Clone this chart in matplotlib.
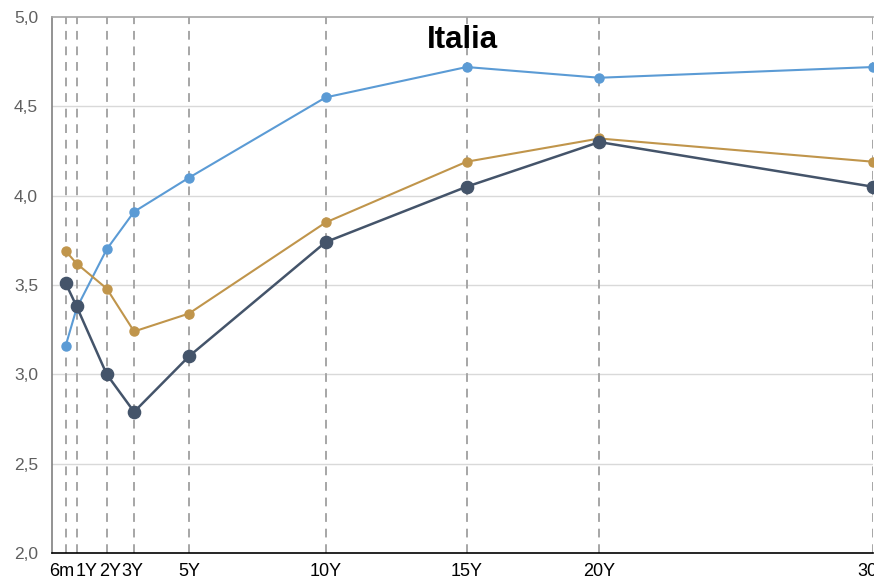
import matplotlib
matplotlib.use("Agg")
import matplotlib.pyplot as plt
from matplotlib.transforms import ScaledTranslation

plt.rcParams["font.family"] = ["Liberation Sans", "DejaVu Sans"]

# Maturities (years) and their labels
maturities = [0.5, 0.9, 2, 3, 5, 10, 15.15, 20, 30]
labels = ["6m", "1Y", "2Y", "3Y", "5Y", "10Y", "15Y", "20Y", "30Y"]

# Yield curves (%)
curve_blue = [3.16, 3.37, 3.70, 3.91, 4.10, 4.55, 4.72, 4.66, 4.72]
curve_gold = [3.69, 3.62, 3.48, 3.24, 3.34, 3.85, 4.19, 4.32, 4.19]
curve_dark = [3.51, 3.38, 3.00, 2.79, 3.10, 3.74, 4.05, 4.30, 4.05]

fig = plt.figure(figsize=(8.74, 5.8), dpi=100)
ax = fig.add_axes([52 / 874, 27 / 580, 821 / 874, 536 / 580])

# horizontal grid
for y in [2.5, 3.0, 3.5, 4.0, 4.5]:
    ax.axhline(y, color="#d9d9d9", lw=1.0, zorder=0)

# dashed verticals at each maturity
for m in maturities:
    ax.axvline(m, color="#a6a6a6", lw=1.4, ls=(0, (4.5, 3.5)), zorder=1)

ax.plot(maturities, curve_blue, color="#5b9bd5", lw=1.5, marker="o", ms=6.5, zorder=3)
ax.plot(maturities, curve_gold, color="#c0954b", lw=1.5, marker="o", ms=6.5, zorder=3)
ax.plot(maturities, curve_dark, color="#44546a", lw=1.8, marker="o", ms=8.8, zorder=4)

ax.set_xlim(0, 30)
ax.set_ylim(2.0, 5.0)
ax.set_xticks(maturities)
ax.set_xticklabels(labels, fontsize=13, color="black")
ax.set_yticks([2.0, 2.5, 3.0, 3.5, 4.0, 4.5, 5.0])
ax.set_yticklabels([f"{v:.1f}".replace(".", ",") for v in ax.get_yticks()],
                   fontsize=12.5, color="#5f5f5f")
ax.tick_params(axis="x", length=0, pad=7)
ax.tick_params(axis="y", length=0, pad=10)

# short-end labels are packed side by side so they don't collide
shifts_px = [-3.5, 10, 3, -2, 0, 0, 0, 0, 0]
for lbl, dx in zip(ax.get_xticklabels(), shifts_px):
    lbl.set_transform(lbl.get_transform() + ScaledTranslation(dx / 100, 0, fig.dpi_scale_trans))

ax.spines["right"].set_visible(False)
ax.spines["left"].set_color("#808080")
ax.spines["top"].set_color("#a6a6a6")
ax.spines["bottom"].set_color("black")
for s in ax.spines.values():
    s.set_linewidth(1.2)

ax.text(0.5, 0.985, "Italia", transform=ax.transAxes, ha="center", va="top",
        fontsize=22.5, fontweight="bold", color="black", zorder=5)

fig.savefig("out.png", dpi=100)
